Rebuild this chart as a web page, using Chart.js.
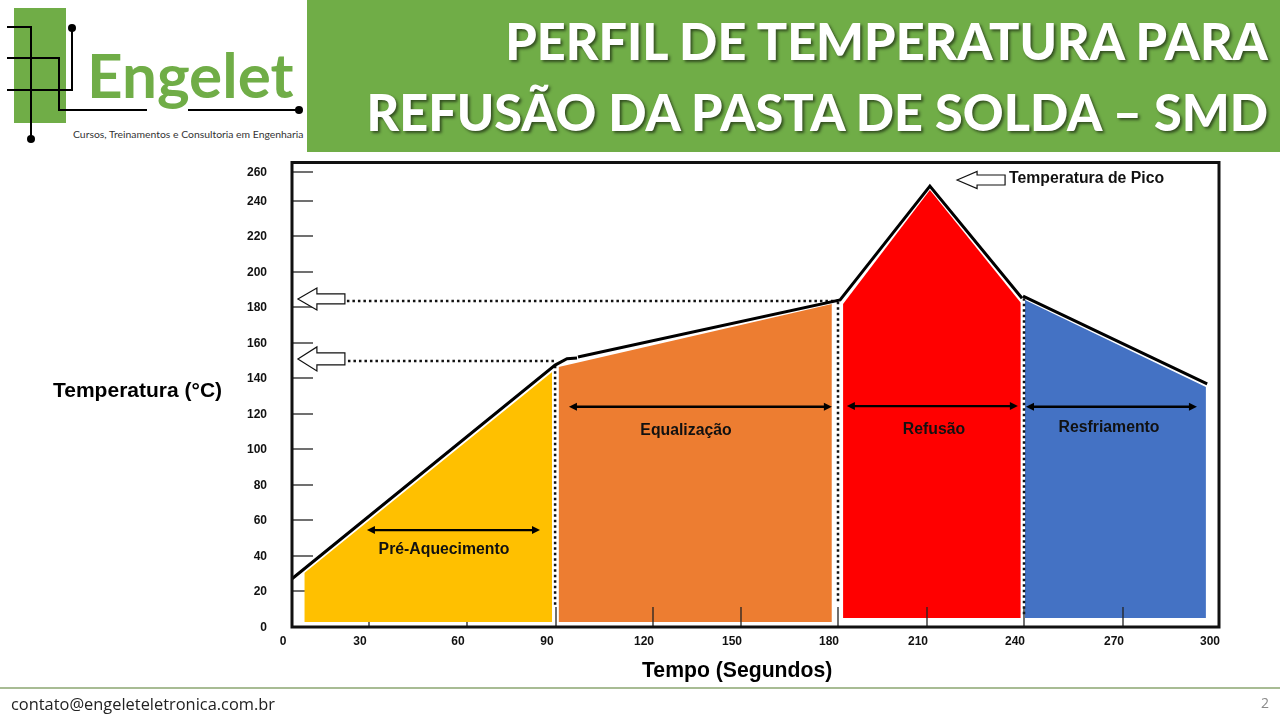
<!DOCTYPE html>
<html lang="pt">
<head>
<meta charset="utf-8">
<script src="https://cdn.jsdelivr.net/npm/chart.js@4/dist/chart.umd.min.js"></script>
<style>
html,body{margin:0;padding:0;background:#fff;width:1280px;height:720px;overflow:hidden}
#page{position:relative;width:1280px;height:720px}
#page>*{position:absolute}
canvas{left:0;top:0}
#band{left:307px;top:0;width:973px;height:152px;background:#70AD47}
.title{right:12px;color:#fff;font:900 50.4px Lato,sans-serif;white-space:nowrap;text-shadow:2px 2px 3px rgba(0,0,0,.55)}
#logoBlock{left:14px;top:8px;width:52px;height:115px;background:#70AD47}
#brand{left:87px;top:37px;color:#70AD47;font:700 62px Lato,sans-serif;white-space:nowrap}
#tag{left:73px;top:128px;font:10.4px Lato,sans-serif;color:#333;white-space:nowrap}
#rule{left:0;top:687px;width:1280px;height:2px;background:#A8BC94}
#mail{left:11px;top:692px;font:16.4px "Open Sans",sans-serif;color:#222;white-space:nowrap}
#pg{left:1261px;top:693px;font:14px "Open Sans",sans-serif;color:#8a8a8a}
svg{left:0;top:0}
</style>
</head>
<body>
<div id="page">
<div id="band"></div>
<div class="title" style="top:10px">PERFIL DE TEMPERATURA PARA</div>
<div class="title" style="top:81px">REFUSÃO DA PASTA DE SOLDA – SMD</div>
<div id="logoBlock"></div>
<div id="brand">Engelet</div>
<div id="tag">Cursos, Treinamentos e Consultoria em Engenharia</div>
<svg width="310" height="150" fill="none" stroke="#000" stroke-width="2">
<path d="M7 27H31V139M7 58H59V110H147M188 110H299M7 90H72V28"/>
<g fill="#000" stroke="none"><circle cx="31" cy="139" r="4"/><circle cx="72" cy="28" r="4"/><circle cx="299" cy="110" r="4"/></g>
</svg>
<canvas id="c" width="1280" height="720"></canvas>
<div id="rule"></div>
<div id="mail">contato@engeleteletronica.com.br</div>
<div id="pg">2</div>
</div>
<script>
// ---- values ----
const xTicks = [0,30,60,90,120,150,180,210,240,270,300];
const yTicks = [0,20,40,60,80,100,120,140,160,180,200,220,240,260];

const profileTime = [0,89.7,93.4,96.5,null,96.8,180.7,210.9,239.4,null,239.7,296.3];
const profileTemp = [27,147.4,151,151.4,null,152,184,250.3,185,null,186.2,136.7];

const preheatTime = [4.8,88.7];
const preheatTemp = [30.3,143.4];
const soakTime = [90.8,178.1];
const soakTemp = [146.3,181.7];
const reflowTime = [181.7,210.9,239];
const reflowTemp = [181.7,247.6,182.4];
const coolTime = [240.3,295.9];
const coolTemp = [184,135];
const preheatBase = 2.8, soakBase = 2.8, reflowBase = 5, coolBase = 5;

const guideTime = [[21.4,180],[21.8,90.3],[89.7,89.7],[180,180],[240,240]];
const guideTemp = [[183.4,183.4],[149.7,149.7],[147,11],[183,13],[185,6.7]];

const phaseNames = ['Pré-Aquecimento','Equalização','Refusão','Resfriamento'];
const phaseFrom = [29.2,94,183,240.6];
const phaseTo = [84.6,178.1,238.1,293.1];
const phaseLevel = [54.4,124,124.4,124];

// ---- hand-drawn axis calibration: where each tick really falls ----
const BOX = {l:292,r:1219,t:163,b:627};
const xStops = [[0,292],[30,369],[60,467],[90,556],[120,653],[150,741],[180,838],[210,927],[240,1024],[270,1123],[300,1219]];
const yStops = [[0,627],[20,591],[40,556],[60,520],[80,485],[100,449],[120,414],[140,378],[160,343],[180,307],[200,272],[220,236],[240,201],[260,172],[266,163]];

class CalibratedScale extends Chart.LinearScale {
  static id = 'calibrated';
  static defaults = {};
  place(p){
    return this.isHorizontal()
      ? this.left + (p-BOX.l)/(BOX.r-BOX.l)*this.width
      : this.top + (p-BOX.t)/(BOX.b-BOX.t)*this.height;
  }
  getPixelForValue(v){
    const st = this.options.stops;
    if (v === null || isNaN(v)) return NaN;
    let i = 0;
    while (i < st.length-2 && v > st[i+1][0]) i++;
    const [a,pa] = st[i], [b,pb] = st[i+1];
    return this.place(pa + (v-a)/(b-a)*(pb-pa));
  }
  getValueForPixel(p){
    const st = this.options.stops;
    for (let i=0;i<st.length-1;i++){
      const [a,pa]=st[i],[b,pb]=st[i+1];
      const qa=this.place(pa),qb=this.place(pb);
      if ((p-qa)*(p-qb)<=0) return a+(p-qa)/(qb-qa)*(b-a);
    }
    return NaN;
  }
}
Chart.register(CalibratedScale);

const zip = (xs,ys) => xs.map((x,i)=>({x,y:ys[i]}));
const area = (xs,ys,base,color,order) => ({
  data: [{x:xs[0],y:base},...zip(xs,ys),{x:xs[xs.length-1],y:base}],
  borderWidth:0,backgroundColor:color,fill:{value:base},pointRadius:0,tension:0,order
});

const chartKit = {
  id:'chartKit',
  tick(ctx,x1,y1,x2,y2){ctx.beginPath();ctx.moveTo(x1,y1);ctx.lineTo(x2,y2);ctx.stroke();},
  beforeDatasetsDraw(chart){
    const {ctx,scales:{x,y}} = chart;
    ctx.save();ctx.strokeStyle='#222';ctx.lineWidth=1.3;
    yTicks.slice(1).forEach(v=>{const p=y.getPixelForValue(v);this.tick(ctx,BOX.l,p,BOX.l+21,p);});
    xTicks.slice(1,3).forEach(v=>{const p=x.getPixelForValue(v);this.tick(ctx,p,BOX.b,p,BOX.b-20);});
    ctx.restore();
  },
  afterDatasetsDraw(chart){
    const {ctx,scales:{x,y}} = chart;
    ctx.save();
    ctx.strokeStyle='#222';ctx.lineWidth=1.3;
    xTicks.slice(3,10).forEach(v=>{const p=x.getPixelForValue(v);this.tick(ctx,p,BOX.b,p,BOX.b-20);});
    ctx.strokeStyle='#111';ctx.lineWidth=3;
    ctx.strokeRect(BOX.l,BOX.t-0.5,BOX.r-BOX.l,BOX.b-BOX.t+0.5);
    ctx.strokeStyle='#000';ctx.fillStyle='#000';ctx.lineWidth=2.4;
    phaseNames.forEach((n,i)=>{
      const a=x.getPixelForValue(phaseFrom[i]),b=x.getPixelForValue(phaseTo[i]),p=y.getPixelForValue(phaseLevel[i]);
      this.tick(ctx,a+4,p,b-4,p);
      [[a,1],[b,-1]].forEach(([e,d])=>{ctx.beginPath();ctx.moveTo(e,p);ctx.lineTo(e+8*d,p-4);ctx.lineTo(e+8*d,p+4);ctx.closePath();ctx.fill();});
    });
    ctx.fillStyle='#fff';ctx.strokeStyle='#111';ctx.lineWidth=1.2;
    const block=(vx,vy,hl,hh,bh,len)=>{
      const tx=x.getPixelForValue(vx),ty=y.getPixelForValue(vy);
      ctx.beginPath();ctx.moveTo(tx,ty);ctx.lineTo(tx+hl,ty-hh);ctx.lineTo(tx+hl,ty-bh);ctx.lineTo(tx+len,ty-bh);
      ctx.lineTo(tx+len,ty+bh);ctx.lineTo(tx+hl,ty+bh);ctx.lineTo(tx+hl,ty+hh);ctx.closePath();ctx.fill();ctx.stroke();
    };
    block(2.3,184.6,19,11,5,47);
    block(2.3,150.9,19,12,6,47);
    block(219.3,254.5,20,8.5,5,48);
    ctx.fillStyle='#111';ctx.textBaseline='middle';ctx.textAlign='center';
    ctx.font='bold 15.8px "Liberation Sans"';
    ctx.fillText(phaseNames[0],444,549.5);
    ctx.fillText(phaseNames[1],686,430.5);
    ctx.fillText(phaseNames[2],934,430);
    ctx.fillText(phaseNames[3],1109,427.5);
    ctx.textAlign='left';
    ctx.fillText('Temperatura de Pico',1009,178.5);
    ctx.fillStyle='#000';
    ctx.font='bold 21px "Liberation Sans"';
    ctx.fillText('Temperatura (°C)',53,391);
    ctx.font='bold 21.2px "Liberation Sans"';
    ctx.fillText('Tempo (Segundos)',642,671);
    ctx.restore();
  }
};

const guides = guideTime.map((t,i)=>({
  data:zip(t,guideTemp[i]),borderColor:'#111',borderWidth:2.5,borderDash:[2.5,3],pointRadius:0,fill:false,order:2
}));

new Chart(document.getElementById('c'),{
  type:'line',
  data:{datasets:[
    {data:zip(profileTime,profileTemp),borderColor:'#000',borderWidth:3,pointRadius:0,tension:0,spanGaps:false,fill:false,order:1,borderJoinStyle:'miter'},
    ...guides,
    area(preheatTime,preheatTemp,preheatBase,'#FFC000',6),
    area(soakTime,soakTemp,soakBase,'#ED7D31',5),
    area(reflowTime,reflowTemp,reflowBase,'#FF0000',4),
    area(coolTime,coolTemp,coolBase,'#4472C4',3)
  ]},
  plugins:[chartKit],
  options:{
    responsive:false,animation:false,devicePixelRatio:1,
    layout:{padding:{left:0,top:BOX.t,right:1280-BOX.r,bottom:0}},
    plugins:{legend:{display:false},tooltip:{enabled:false},title:{display:false}},
    scales:{
      x:{type:'calibrated',stops:xStops,min:0,max:300,
        afterFit:s=>{s.height=720-BOX.b;},
        grid:{display:false,drawTicks:false},border:{display:false},
        ticks:{stepSize:30,autoSkip:false,maxRotation:0,padding:7,labelOffset:-9,includeBounds:false,color:'#111',font:{family:'"Liberation Sans"',weight:'bold',size:12}}},
      y:{type:'calibrated',stops:yStops,min:0,max:266,
        afterFit:s=>{s.width=BOX.l;},
        grid:{display:false,drawTicks:false},border:{display:false},
        ticks:{stepSize:20,autoSkip:false,padding:25,labelOffset:1,includeBounds:false,color:'#111',font:{family:'"Liberation Sans"',weight:'bold',size:12}}}
    }
  }
});
</script>
</body>
</html>
